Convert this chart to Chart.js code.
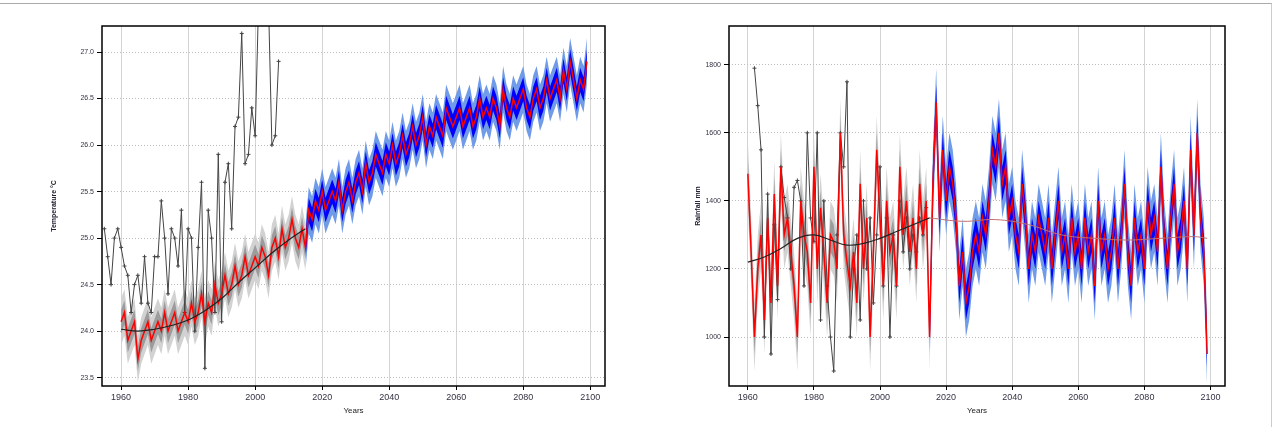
<!DOCTYPE html><html><head><meta charset="utf-8">
<script src="https://cdn.jsdelivr.net/npm/chart.js@4"></script>
<style>body{margin:0;background:#fff;width:1273px;height:428px;overflow:hidden;position:relative}
#f{position:absolute;left:0;top:3px;width:1272px;height:424px;border-top:1px solid #aaa;border-right:1px solid #ccc;box-sizing:border-box}
canvas{position:absolute;top:0}</style></head><body><div id="f"></div>
<div style="position:absolute;left:0;top:0;width:636px;height:428px"><canvas id="c1"></canvas></div>
<div style="position:absolute;left:636px;top:0;width:637px;height:428px"><canvas id="c2"></canvas></div>
<script>
const years=[];for(let y=1960;y<=2099;y++)years.push(y);
const tempModel=[24.1,24.2,23.9,24.0,24.1,23.7,23.9,24.0,24.1,23.9,
24.0,24.1,24.0,24.2,24.0,24.1,24.2,24.0,24.1,24.2,
24.1,24.3,24.1,24.2,24.4,24.1,24.3,24.2,24.5,24.3,
24.4,24.6,24.4,24.5,24.7,24.5,24.6,24.8,24.6,24.7,
24.8,24.7,24.9,24.8,24.6,24.9,25.0,24.8,25.1,24.9,
25.0,25.2,25.0,24.9,25.1,24.9,25.3,25.2,25.4,25.3,
25.5,25.3,25.4,25.5,25.4,25.6,25.3,25.5,25.6,25.4,
25.6,25.7,25.5,25.8,25.6,25.7,25.9,25.8,25.7,25.9,
25.8,26.0,25.8,25.9,26.1,25.9,26.0,26.2,26.0,26.1,
26.3,26.0,26.2,26.1,26.3,26.2,26.1,26.4,26.3,26.2,
26.3,26.4,26.2,26.3,26.4,26.2,26.3,26.5,26.3,26.4,
26.3,26.5,26.4,26.2,26.6,26.4,26.3,26.5,26.4,26.5,
26.6,26.4,26.3,26.5,26.6,26.4,26.5,26.7,26.5,26.6,
26.7,26.5,26.8,26.6,26.9,26.7,26.5,26.7,26.6,26.9];
const tempObsYears=[];for(let y=1955;y<=2007;y++)tempObsYears.push(y);
const tempObs=[25.1,24.8,24.5,25.0,25.1,24.9,24.7,24.6,24.2,24.5,24.6,24.3,24.8,24.3,24.2,24.8,24.8,25.4,25.0,24.4,25.1,25.0,24.7,25.3,24.2,25.1,25.0,24.0,24.9,25.6,23.6,25.3,25.0,24.2,25.9,24.1,25.6,25.8,25.1,26.2,26.3,27.2,25.8,25.9,26.4,26.1,27.5,27.8,27.6,27.5,26.0,26.1,26.9];
const tempSmoothYears=[1960,1965,1970,1975,1980,1985,1990,1995,2000,2005,2010,2015];
const tempSmooth=[24.02,24.0,24.02,24.06,24.12,24.22,24.35,24.52,24.68,24.84,24.98,25.1];
const rainModel=[1480,1250,1000,1200,1300,1050,1350,1100,1420,1150,
1500,1300,1350,1250,1150,1000,1400,1300,1250,1100,
1500,1200,1380,1250,1100,1300,1280,1200,1600,1300,
1220,1150,1250,1100,1450,1200,1350,1000,1250,1550,
1350,1150,1400,1250,1300,1150,1500,1300,1400,1250,
1350,1200,1450,1300,1400,1000,1450,1690,1350,1550,
1400,1500,1450,1350,1150,1250,1100,1150,1250,1300,
1250,1350,1300,1400,1550,1500,1600,1450,1500,1350,
1400,1300,1250,1450,1350,1200,1300,1250,1350,1300,
1250,1350,1200,1300,1400,1250,1300,1200,1350,1250,
1300,1200,1350,1250,1300,1150,1400,1250,1300,1200,
1250,1350,1200,1300,1450,1250,1150,1350,1250,1300,
1200,1400,1300,1350,1250,1500,1300,1200,1350,1450,
1250,1300,1400,1200,1550,1300,1600,1350,1250,950];
const rainObsYears=[];for(let y=1962;y<=2014;y++)rainObsYears.push(y);
const rainObs=[1790,1680,1550,1000,1420,950,1330,1110,1500,1410,1350,1200,1440,1460,1400,1150,1600,1350,1280,1600,1050,1400,1150,1000,900,1300,1600,1500,1750,1000,1200,1300,1050,1400,1200,1350,1100,1300,1500,1150,1350,1000,1300,1150,1400,1250,1350,1200,1300,1250,1350,1300,1380];
const rainSmoothYears=[1960,1965,1970,1975,1980,1985,1990,1995,2000,2005,2010,2015];
const rainSmooth=[1220,1235,1260,1290,1300,1285,1270,1275,1290,1310,1330,1350];
const rainTrendYears=[2015,2025,2035,2045,2055,2065,2075,2085,2095,2099];
const rainTrend=[1350,1340,1345,1330,1300,1290,1285,1290,1295,1290];

function pts(xs,ys,f,from,to){const o=[];xs.forEach((x,i)=>{if(x>=from&&x<=to)o.push({x:x,y:f(ys[i])});});return o;}
function bands(vals,d1,d2){
 return [
  {data:pts(years,vals,v=>v+d2,1960,2015),borderWidth:0,pointRadius:0,backgroundColor:'#d2d2d2',fill:'+1'},
  {data:pts(years,vals,v=>v-d2,1960,2015),borderWidth:0,pointRadius:0},
  {data:pts(years,vals,v=>v+d1,1960,2015),borderWidth:0,pointRadius:0,backgroundColor:'#9c9c9c',fill:'+1'},
  {data:pts(years,vals,v=>v-d1,1960,2015),borderWidth:0,pointRadius:0},
  {data:pts(years,vals,v=>v+d2,2015,2099),borderWidth:0,pointRadius:0,backgroundColor:'#6f9be8',fill:'+1'},
  {data:pts(years,vals,v=>v-d2,2015,2099),borderWidth:0,pointRadius:0},
  {data:pts(years,vals,v=>v+d1,2015,2099),borderWidth:0,pointRadius:0,backgroundColor:'#0000ff',fill:'+1'},
  {data:pts(years,vals,v=>v-d1,2015,2099),borderWidth:0,pointRadius:0}];
}
const box={id:'box',afterDraw(c){const a=c.chartArea,x=c.ctx;x.save();x.strokeStyle='#000';x.lineWidth=1.5;x.strokeRect(a.left,a.top,a.right-a.left,a.bottom-a.top);x.restore();}};
function make(id,model,d1,d2,obsX,obs,smX,sm,extra,ymin,ymax,ticks,ytitle,padL,axW,padR,fmt){
 const ds=bands(model,d1,d2);
 ds.push({data:pts(obsX,obs,v=>v,1900,2100),borderColor:'#444',borderWidth:1,pointStyle:'cross',pointRadius:2,pointBorderColor:'#444',pointBorderWidth:1});
 ds.push({data:pts(years,model,v=>v,1960,2099),borderColor:'#ff0000',borderWidth:1.5,pointRadius:0});
 if(extra)ds.push({data:pts(extra[0],extra[1],v=>v,1900,2100),borderColor:'#c07070',borderWidth:1,pointRadius:0,tension:0.4});
 ds.push({data:pts(smX,sm,v=>v,1900,2100),borderColor:'#222',borderWidth:1.2,pointRadius:0,tension:0.4});
 ds.forEach((d,i)=>{if(d.fill===undefined)d.fill=false;d.order=ds.length-i;});
 new Chart(document.getElementById(id),{type:'line',data:{datasets:ds},plugins:[box],
 options:{responsive:true,maintainAspectRatio:false,animation:false,layout:{padding:{left:padL,right:padR,top:26,bottom:0}},
 plugins:{legend:{display:false},tooltip:{enabled:false}},
 scales:{x:{type:'linear',min:1954.3,max:2104.4,afterFit:s=>{s.height=42;},afterBuildTicks:s=>{s.ticks=[1960,1980,2000,2020,2040,2060,2080,2100].map(v=>({value:v}));},
  grid:{color:'#d4d4d4',drawTicks:true,tickLength:4,tickColor:'#000'},border:{display:false},
  ticks:{color:'#334',font:{size:9},maxRotation:0,padding:2,callback:v=>String(v)},title:{display:true,text:'Years',font:{size:8},color:'#222',padding:{top:0,bottom:12}}},
 y:{min:ymin,max:ymax,afterFit:s=>{s.width=axW;},afterBuildTicks:s=>{s.ticks=ticks.map(v=>({value:v}));},
  grid:{color:'#bbb',tickColor:'#000',tickLength:5},border:{display:false,dash:[1,2]},
  ticks:{color:'#334',font:{size:7},callback:fmt},title:{display:true,text:ytitle,font:{size:7,weight:'bold'},color:'#223',padding:2}}}}});
}
const tempTicks=[23.5,24.0,24.5,25.0,25.5,26.0,26.5,27.0];
const rainTicks=[1000,1200,1400,1600,1800];
Chart.defaults.font.family='Liberation Sans';
make('c1',tempModel,0.13,0.25,tempObsYears,tempObs,tempSmoothYears,tempSmooth,null,23.41,27.28,tempTicks,'Temperature °C',48,54,31,v=>v.toFixed(1));
make('c2',rainModel,50,100,rainObsYears,rainObs,rainSmoothYears,rainSmooth,[rainTrendYears,rainTrend],856,1914,rainTicks,'Rainfall mm',56,37,48,v=>String(v));
</script></body></html>
